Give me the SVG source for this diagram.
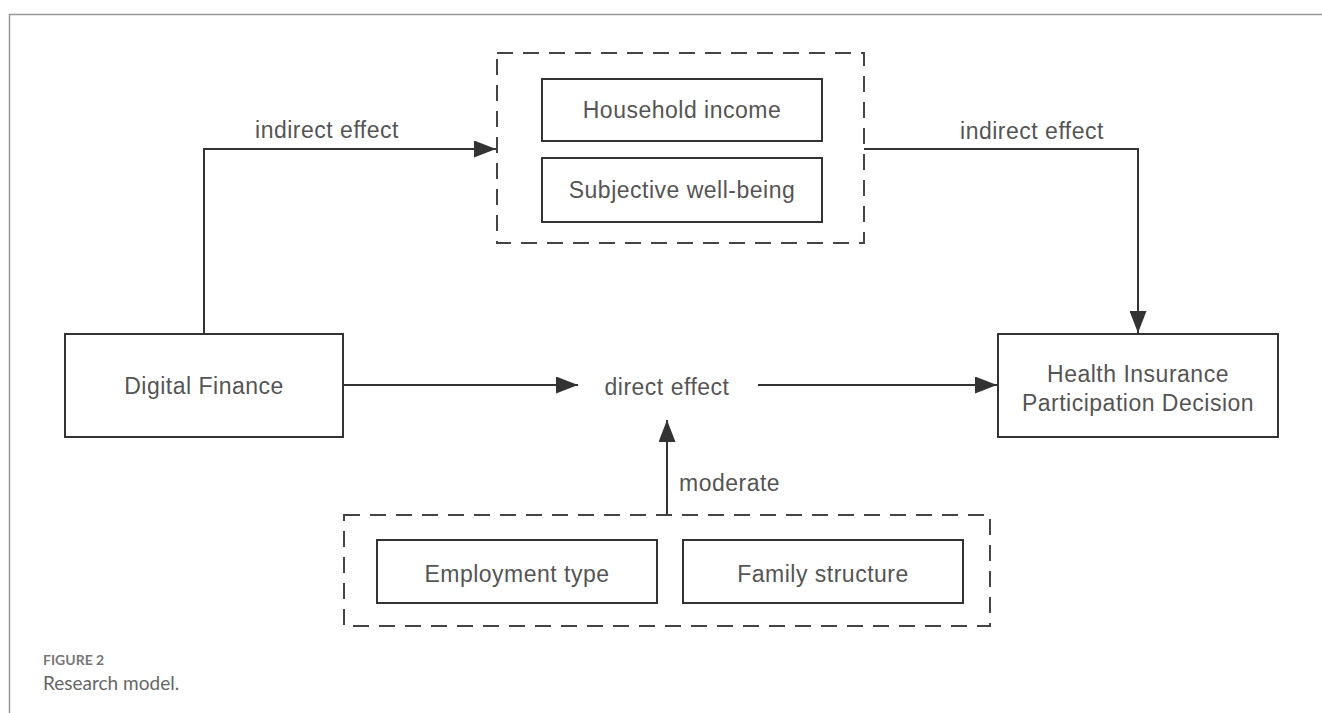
<svg xmlns="http://www.w3.org/2000/svg" width="1322" height="713" viewBox="0 0 1322 713">
<style>
.box{fill:#fff;stroke:#333;stroke-width:2}
.dash{fill:none;stroke:#444;stroke-width:2;stroke-dasharray:16 10}
.lbl{font-family:"Liberation Sans",Arial,sans-serif;font-size:23px;letter-spacing:0.5px;fill:#555}
.mid{text-anchor:middle}
.conn{fill:none;stroke:#333;stroke-width:2}
.frame{fill:none;stroke:#999;stroke-width:1.5}
</style>
<defs>
<marker id="arr" markerUnits="userSpaceOnUse" markerWidth="22" markerHeight="17" refX="22" refY="8.5" orient="auto">
<path d="M0,0 L22,8.5 L0,17 Z" fill="#333"/>
</marker>
</defs>
<rect width="1322" height="713" fill="#fff"/>
<path class="frame" d="M9.5,713 V14.5 H1322"/>

<g id="connectors">
<path class="conn" d="M204,334 V149 H496" marker-end="url(#arr)"/>
<path class="conn" d="M864,149 H1138 V333" marker-end="url(#arr)"/>
<path class="conn" d="M343,385 H578" marker-end="url(#arr)"/>
<path class="conn" d="M758,385 H997" marker-end="url(#arr)"/>
<path class="conn" d="M667,515 V420" marker-end="url(#arr)"/>
<text class="lbl mid" x="327" y="138">indirect effect</text>
<text class="lbl mid" x="1032" y="139">indirect effect</text>
<text class="lbl mid" x="667" y="395">direct effect</text>
<text class="lbl" x="679" y="491">moderate</text>
</g>

<g id="mediators">
<rect class="dash" x="497" y="53" width="367" height="190"/>
</g>
<g id="household-income">
<rect class="box" x="542" y="79" width="280" height="62"/>
<text class="lbl mid" x="682" y="118">Household income</text>
</g>
<g id="subjective-wellbeing">
<rect class="box" x="542" y="158" width="280" height="64"/>
<text class="lbl mid" x="682" y="198">Subjective well-being</text>
</g>

<g id="digital-finance">
<rect class="box" x="65" y="334" width="278" height="103"/>
<text class="lbl mid" x="204" y="394">Digital Finance</text>
</g>

<g id="health-insurance">
<rect class="box" x="998" y="334" width="280" height="103"/>
<text class="lbl mid" x="1138" y="382">Health Insurance</text>
<text class="lbl mid" x="1138" y="411">Participation Decision</text>
</g>

<g id="moderators">
<rect class="dash" x="344" y="515" width="646" height="111"/>
</g>
<g id="employment-type">
<rect class="box" x="377" y="540" width="280" height="63"/>
<text class="lbl mid" x="517" y="582">Employment type</text>
</g>
<g id="family-structure">
<rect class="box" x="683" y="540" width="280" height="63"/>
<text class="lbl mid" x="823" y="582">Family structure</text>
</g>

<g id="caption">
<text x="43" y="665" font-family="Lato,'Open Sans',sans-serif" font-size="14" font-weight="bold" fill="#777">FIGURE 2</text>
<text x="43" y="690" font-family="Lato,'Open Sans',sans-serif" font-size="19" fill="#666">Research model.</text>
</g>
</svg>
